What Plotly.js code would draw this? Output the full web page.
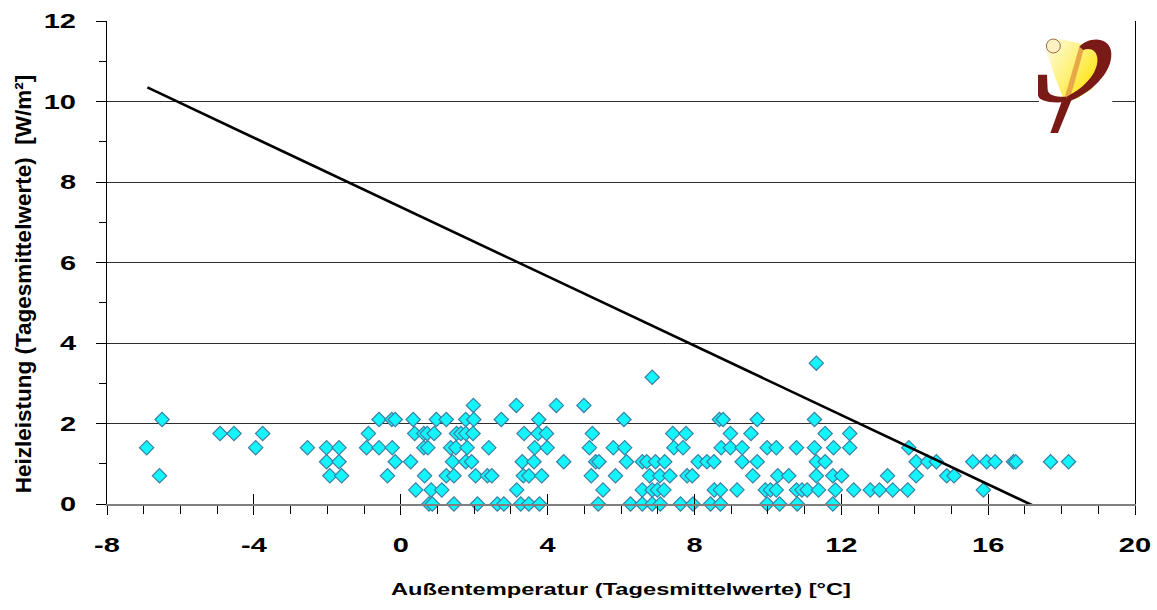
<!DOCTYPE html>
<html>
<head>
<meta charset="utf-8">
<script src="https://cdn.plot.ly/plotly-3.0.1.min.js"></script>
<style>html,body{margin:0;padding:0;background:#fff;}#chart{width:1157px;height:610px;}</style>
</head>
<body>
<div id="chart"></div>
<script>
// Außentemperatur (Tagesmittelwerte) [°C]
var tempC = [
  11.32,
  6.85,
  1.98, 3.15, 4.24, 4.99,
  -6.50, -0.59, -0.24, -0.15, 0.34, 0.97, 1.24, 1.77, 1.99, 2.74, 3.76, 6.08, 8.68, 8.78, 9.71, 11.27,
  -4.92, -4.54, -3.76, -0.88, 0.38, 0.63, 0.72, 0.91, 1.52, 1.64, 1.77, 1.97, 3.36, 3.74, 3.97, 5.22, 7.41, 7.77, 8.98, 9.54, 11.56, 12.23,
  -6.92, -3.95, -2.54, -2.02, -1.68, -0.93, -0.59, -0.23, 0.63, 0.74, 1.36, 1.50, 1.81, 2.40, 3.65, 3.99, 5.14, 5.79, 6.10, 7.44, 7.69, 8.73, 8.98, 9.30, 9.98, 10.23, 10.78, 11.27, 11.79, 12.23, 13.84,
  -2.02, -1.68, -0.15, 0.27, 1.41, 1.77, 1.93, 3.31, 3.63, 4.44, 5.31, 5.40, 6.15, 6.58, 6.70, 6.94, 7.19, 8.10, 8.34, 8.53, 9.30, 9.71, 11.32, 11.56, 14.04, 14.35, 14.59, 15.58, 15.96, 16.19, 16.69, 16.75, 17.70, 18.19,
  -6.57, -1.93, -1.61, -0.36, 0.65, 1.24, 1.45, 2.04, 2.36, 2.48, 3.34, 3.49, 3.84, 5.19, 5.85, 6.78, 7.06, 7.33, 7.80, 7.94, 9.59, 10.27, 10.57, 11.32, 11.77, 12.01, 13.26, 14.04, 14.87, 15.07,
  0.41, 0.83, 1.12, 3.16, 5.51, 6.58, 6.85, 6.99, 7.17, 8.54, 8.71, 9.16, 9.93, 10.07, 10.23, 10.78, 10.93, 11.07, 11.38, 11.84, 12.34, 12.79, 13.04, 13.40, 13.81, 15.87,
  0.77, 0.86, 1.45, 2.09, 2.63, 2.81, 3.27, 3.49, 3.78, 5.38, 6.26, 6.58, 6.85, 7.07, 7.62, 7.96, 8.44, 8.71, 9.98, 10.32, 10.80, 11.77
];
// Heizleistung (Tagesmittelwerte) [W/m²]
var heatW = [
  3.5,
  3.15,
  2.45, 2.45, 2.45, 2.45,
  2.1, 2.1, 2.1, 2.1, 2.1, 2.1, 2.1, 2.1, 2.1, 2.1, 2.1, 2.1, 2.1, 2.1, 2.1, 2.1,
  1.75, 1.75, 1.75, 1.75, 1.75, 1.75, 1.75, 1.75, 1.75, 1.75, 1.75, 1.75, 1.75, 1.75, 1.75, 1.75, 1.75, 1.75, 1.75, 1.75, 1.75, 1.75,
  1.4, 1.4, 1.4, 1.4, 1.4, 1.4, 1.4, 1.4, 1.4, 1.4, 1.4, 1.4, 1.4, 1.4, 1.4, 1.4, 1.4, 1.4, 1.4, 1.4, 1.4, 1.4, 1.4, 1.4, 1.4, 1.4, 1.4, 1.4, 1.4, 1.4, 1.4,
  1.05, 1.05, 1.05, 1.05, 1.05, 1.05, 1.05, 1.05, 1.05, 1.05, 1.05, 1.05, 1.05, 1.05, 1.05, 1.05, 1.05, 1.05, 1.05, 1.05, 1.05, 1.05, 1.05, 1.05, 1.05, 1.05, 1.05, 1.05, 1.05, 1.05, 1.05, 1.05, 1.05, 1.05,
  0.7, 0.7, 0.7, 0.7, 0.7, 0.7, 0.7, 0.7, 0.7, 0.7, 0.7, 0.7, 0.7, 0.7, 0.7, 0.7, 0.7, 0.7, 0.7, 0.7, 0.7, 0.7, 0.7, 0.7, 0.7, 0.7, 0.7, 0.7, 0.7, 0.7,
  0.35, 0.35, 0.35, 0.35, 0.35, 0.35, 0.35, 0.35, 0.35, 0.35, 0.35, 0.35, 0.35, 0.35, 0.35, 0.35, 0.35, 0.35, 0.35, 0.35, 0.35, 0.35, 0.35, 0.35, 0.35, 0.35,
  0, 0, 0, 0, 0, 0, 0, 0, 0, 0, 0, 0, 0, 0, 0, 0, 0, 0, 0, 0, 0, 0
];
// Heizgrenz-Gerade (Kennlinie)
var lineTemp = [-6.9, 17.55];
var lineHeat = [10.35, -0.18];

var xTickVals = [-8, -4, 0, 4, 8, 12, 16, 20];
var xTickText = ['-8', '-4', '0', '4', '8', '12', '16', '20'];
var yTickVals = [0, 2, 4, 6, 8, 10, 12];
var yTickText = ['0', '2', '4', '6', '8', '10', '12'];

var xTitle = 'Außentemperatur (Tagesmittelwerte) [°C]';
var yTitle = 'Heizleistung (Tagesmittelwerte)  [W/m²]';

var FONT = 'Liberation Sans, Arial, Helvetica, sans-serif';

var logoSvg =
  "<svg xmlns='http://www.w3.org/2000/svg' viewBox='0 0 255 330' width='255' height='330'>" +
  "<defs><linearGradient id='g' x1='0' y1='0' x2='1' y2='0.7'>" +
  "<stop offset='0' stop-color='#fffbe6'/><stop offset='0.5' stop-color='#fff27e'/><stop offset='1' stop-color='#ffe000'/></linearGradient></defs>" +
  "<rect x='27' y='0' width='220' height='330' fill='#ffffff'/>" +
  "<polygon points='50,62 88,26 168,44 215,72 214,122 186,176 140,206 100,206 72,132' fill='url(#g)'/>" +
  "<polygon points='148,50 164,48 120,206 103,206' fill='#e8a848'/>" +
  "<path d='M148,50 C172,22 234,16 243,62 C252,114 200,180 118,214 L110,200 C168,172 206,124 202,84 C199,60 180,52 160,60 Z' fill='#7a1a17'/>" +
  "<path d='M24,134 L51,134 L53,180 C56,198 80,201 110,200 L108,216 C60,220 27,214 24,196 Z' fill='#7a1a17'/>" +
  "<polygon points='99,203 127,203 84,309 61,309' fill='#7a1a17'/>" +
  "<circle cx='70' cy='48' r='21' fill='#fdf1c4' stroke='#9a6a40' stroke-width='3'/>" +
  "</svg>";

var traces = [
  {
    type: 'scatter', mode: 'markers',
    x: tempC, y: heatW,
    marker: { symbol: 'diamond', size: 11, color: '#14f4fb', line: { color: '#3a7fa4', width: 1.2 } },
    cliponaxis: false,
    hoverinfo: 'x+y', showlegend: false
  },
  {
    type: 'scatter', mode: 'lines',
    x: lineTemp, y: lineHeat,
    line: { color: '#000000', width: 2.6 },
    hoverinfo: 'skip', showlegend: false
  },
  {
    type: 'scatter', mode: 'lines', x: [], y: [], xaxis: 'x2',
    hoverinfo: 'skip', showlegend: false
  }
];

var layout = {
  width: 1157, height: 610,
  margin: { l: 107, r: 22, t: 21, b: 106 },
  paper_bgcolor: '#ffffff', plot_bgcolor: '#ffffff',
  font: { family: FONT, color: '#000000' },
  showlegend: false,
  xaxis: {
    range: [-8, 20], tickvals: xTickVals, ticktext: xTickText,
    ticks: 'outside', ticklen: 9, tickwidth: 1, tickcolor: '#000000',
    minor: { dtick: 1, tick0: -8, ticks: 'outside', ticklen: 8, tickwidth: 1, tickcolor: '#000000', showgrid: false },
    showgrid: false, zeroline: false,
    showline: true, linecolor: '#7f7f7f', linewidth: 1.5, mirror: false,
    tickfont: { family: FONT, size: 20, color: '#000000', weight: 'bold' },
    ticklabelstandoff: 13,
    title: { text: xTitle, font: { family: FONT, size: 16.5, color: '#000000', weight: 'bold' }, standoff: 29 },
    fixedrange: true
  },
  xaxis2: {
    overlaying: 'x', matches: 'x', anchor: 'y', side: 'bottom',
    range: [-8, 20], tickvals: xTickVals,
    ticks: 'inside', ticklen: 10, tickwidth: 1, tickcolor: '#000000',
    showticklabels: false, showgrid: false, zeroline: false, showline: false,
    fixedrange: true
  },
  yaxis: {
    range: [0, 12], tickvals: yTickVals, ticktext: yTickText,
    ticks: 'outside', ticklen: 10, tickwidth: 1, tickcolor: '#000000',
    minor: { dtick: 1, tick0: 0, ticks: 'outside', ticklen: 7, tickwidth: 1, tickcolor: '#000000', showgrid: false },
    showgrid: true, gridcolor: '#2e2e2e', gridwidth: 1,
    zeroline: false,
    showline: true, linecolor: '#000000', linewidth: 1, mirror: true,
    tickfont: { family: FONT, size: 20, color: '#000000', weight: 'bold' },
    ticklabelstandoff: 16,
    fixedrange: true
  },
  annotations: [
    {
      text: yTitle, xref: 'paper', yref: 'paper',
      x: -0.0817, y: 0.455, xanchor: 'center', yanchor: 'middle',
      textangle: -90, showarrow: false,
      font: { family: FONT, size: 22.5, color: '#000000', weight: 'bold' }
    }
  ],
  images: [
    {
      source: 'data:image/svg+xml;charset=utf-8,' + encodeURIComponent(logoSvg),
      xref: 'paper', yref: 'paper',
      x: (1030 - 107) / 1028, y: (504 - 30) / 483,
      sizex: 85 / 1028, sizey: 110 / 483,
      xanchor: 'left', yanchor: 'top', sizing: 'stretch', layer: 'above'
    }
  ]
};

// the original artwork has horizontally widened lettering: widen the label glyphs
function widen(nodes, factor, target) {
  Array.prototype.forEach.call(nodes, function (t) {
    var w = t.getComputedTextLength();
    if (!w) return;
    var len = target ? target : w * factor;
    t.setAttribute('textLength', len.toFixed(1));
    t.setAttribute('lengthAdjust', 'spacingAndGlyphs');
  });
}

Plotly.newPlot('chart', traces, layout, { displayModeBar: false, staticPlot: true }).then(function (gd) {
  widen(gd.querySelectorAll('.xaxislayer-above .xtick text'), 1.45);
  widen(gd.querySelectorAll('.yaxislayer-above .ytick text'), 1.45);
  widen(gd.querySelectorAll('text.xtitle'), 1, 460);
});
</script>
</body>
</html>
